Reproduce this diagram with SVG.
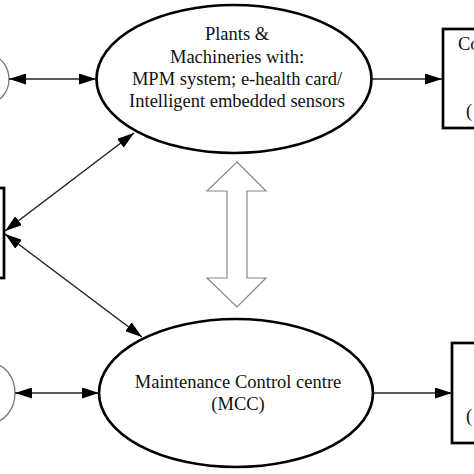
<svg xmlns="http://www.w3.org/2000/svg" width="474" height="474" viewBox="0 0 474 474">
<style>
.el{fill:#fff;stroke:#000;stroke-width:2.7}
.side{fill:#fff;stroke:#777;stroke-width:1.3}
.box{fill:#fff;stroke:#000;stroke-width:2.7}
.t{font-family:"Liberation Serif","Times New Roman",serif;font-size:18.5px;fill:#111;text-anchor:middle}
.tl{font-family:"Liberation Serif","Times New Roman",serif;font-size:18.5px;fill:#111}
.c{stroke:#222;stroke-width:1.5;fill:none}
.blk{fill:#fff;stroke:#888;stroke-width:1.2}
</style>
<defs>
<marker id="ah" viewBox="0 0 17 11" refX="17" refY="5.5" markerWidth="17" markerHeight="11" markerUnits="userSpaceOnUse" orient="auto-start-reverse">
<path d="M0,0 L17,5.5 L0,11 Z" fill="#000"/>
</marker>
</defs>
<rect width="474" height="474" fill="#fff"/>
<g id="left-top-circle"><ellipse class="side" cx="-12" cy="79" rx="21" ry="24"/></g>
<g id="left-bottom-circle"><ellipse class="side" cx="-10" cy="393" rx="25" ry="30"/></g>
<g id="left-box"><rect class="box" x="-10" y="188" width="14" height="90"/></g>
<g id="plants"><ellipse class="el" cx="234" cy="79" rx="137.5" ry="74"/>
<text class="t" x="237" y="40">Plants &amp;</text>
<text class="t" x="237" y="63">Machineries with:</text>
<text class="t" x="237" y="85">MPM system; e-health card/</text>
<text class="t" x="237" y="107">Intelligent embedded sensors</text></g>
<g id="mcc"><ellipse class="el" cx="236" cy="393" rx="137" ry="74"/>
<text class="t" x="238" y="388">Maintenance Control centre</text>
<text class="t" x="238" y="410">(MCC)</text></g>
<g id="right-top-box"><rect class="box" x="443" y="29" width="40" height="99"/>
<text class="tl" x="458" y="50">Co</text>
<text class="tl" x="466" y="117">(</text></g>
<g id="right-bottom-box"><rect class="box" x="452" y="343" width="40" height="100"/>
<text class="tl" x="466" y="422">(</text></g>
<g id="connectors">
<line class="c" x1="9" y1="79" x2="96" y2="79" marker-start="url(#ah)" marker-end="url(#ah)"/>
<line class="c" x1="15" y1="393" x2="99" y2="393" marker-start="url(#ah)" marker-end="url(#ah)"/>
<line class="c" x1="371" y1="79" x2="442" y2="79" marker-end="url(#ah)"/>
<line class="c" x1="373" y1="393" x2="452" y2="393" marker-end="url(#ah)"/>
<line class="c" x1="5" y1="231" x2="134" y2="133" marker-start="url(#ah)" marker-end="url(#ah)"/>
<line class="c" x1="5" y1="234" x2="142" y2="337" marker-start="url(#ah)" marker-end="url(#ah)"/>
<path class="blk" d="M237,162 L266,191 L247,191 L247,278 L266,278 L237,307 L207,278 L227,278 L227,191 L207,191 Z"/>
</g>
</svg>
